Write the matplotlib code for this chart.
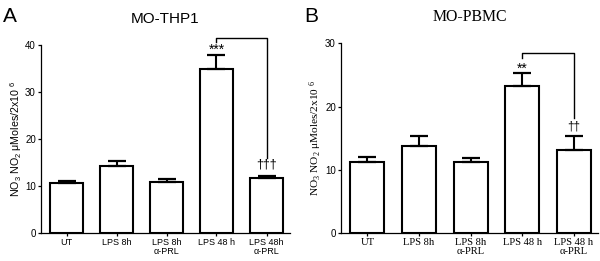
import matplotlib
matplotlib.use("Agg")
import matplotlib.pyplot as plt
import numpy as np

# Panel A data (MO-THP1)
cats_a = ["UT", "LPS 8h", "LPS 8h\nα-PRL", "LPS 48 h", "LPS 48h\nα-PRL"]
vals_a = [10.7, 14.3, 10.9, 34.8, 11.6]
errs_a = [0.35, 1.1, 0.6, 3.1, 0.45]
yticks_a = [0, 10, 20, 30, 40]

# Panel B data (MO-PBMC)
cats_b = ["UT", "LPS 8h", "LPS 8h\nα-PRL", "LPS 48 h", "LPS 48 h\nα-PRL"]
vals_b = [11.2, 13.8, 11.3, 23.3, 13.1]
errs_b = [0.75, 1.6, 0.5, 2.0, 2.3]
yticks_b = [0, 10, 20, 30]

fig = plt.figure(figsize=(6.0, 2.61), dpi=100)

YLABEL = r"NO$\mathregular{_3}$ NO$\mathregular{_2}$ μMoles/2x10 $\mathregular{^6}$"

def draw(ax, cats, vals, errs, yticks, ymax, sans, catsize, labsize, titlesize, title, letter,
         bracket_top, left_leg, right_leg, sig, sig_y, dag, dag_y, dagsize, lx):
    x = np.arange(len(cats))
    ax.bar(x, vals, width=0.66, color="white", edgecolor="black", linewidth=1.5, zorder=2)
    ax.errorbar(x, vals, yerr=[np.zeros(len(errs)), errs], fmt="none", ecolor="black",
                elinewidth=1.5, capsize=6.4, capthick=1.6, zorder=3)
    ax.set_xlim(-0.51, 4.47)
    ax.set_ylim(0, ymax)
    ax.set_yticks(yticks)
    ax.set_xticks(x)
    ax.set_xticklabels(cats, family=sans, fontsize=catsize, linespacing=1.05)
    for t in ax.get_yticklabels():
        t.set_family("Liberation Sans")
        t.set_fontsize(7)
    for s in ["top", "right"]:
        ax.spines[s].set_visible(False)
    for s in ["left", "bottom"]:
        ax.spines[s].set_linewidth(0.9)
    ax.tick_params(axis="both", direction="out", length=2.5, width=0.9, pad=1.2)
    ax.set_ylabel(YLABEL, family=sans, fontsize=labsize, labelpad=0.5)
    ax.set_title(title, family=sans, fontsize=titlesize, pad=16)
    # bracket
    ax.plot([3, 3, 4, 4], [left_leg, bracket_top, bracket_top, right_leg], color="black",
            linewidth=1.0, clip_on=False)
    ax.text(3, sig_y, sig, ha="center", va="baseline", fontsize=10, family="Liberation Sans")
    ax.text(4, dag_y, dag, ha="center", va="center", fontsize=dagsize, family="Liberation Sans")
    fig.text(lx, 0.975, letter, ha="left", va="top", fontsize=15, family="Liberation Sans")

ax_a = fig.add_axes([41/600, 28/261, 249/600, 188/261])
draw(ax_a, cats_a, vals_a, errs_a, yticks_a, 40, "Liberation Sans", 6.5, 7.7, 11,
     "MO-THP1", "A", 41.4, 40.6, 16.0, "***", 38.1, "†††", 14.5, 9, 3/600)

ax_b = fig.add_axes([341/600, 28/261, 257/600, 189.7/261])
draw(ax_b, cats_b, vals_b, errs_b, yticks_b, 30, "Liberation Serif", 7.6, 8.2, 11.4,
     "MO-PBMC", "B", 28.4, 27.6, 18.2, "**", 25.4, "††", 16.9, 8.5, 304/600)

fig.savefig("out.png", dpi=100)
